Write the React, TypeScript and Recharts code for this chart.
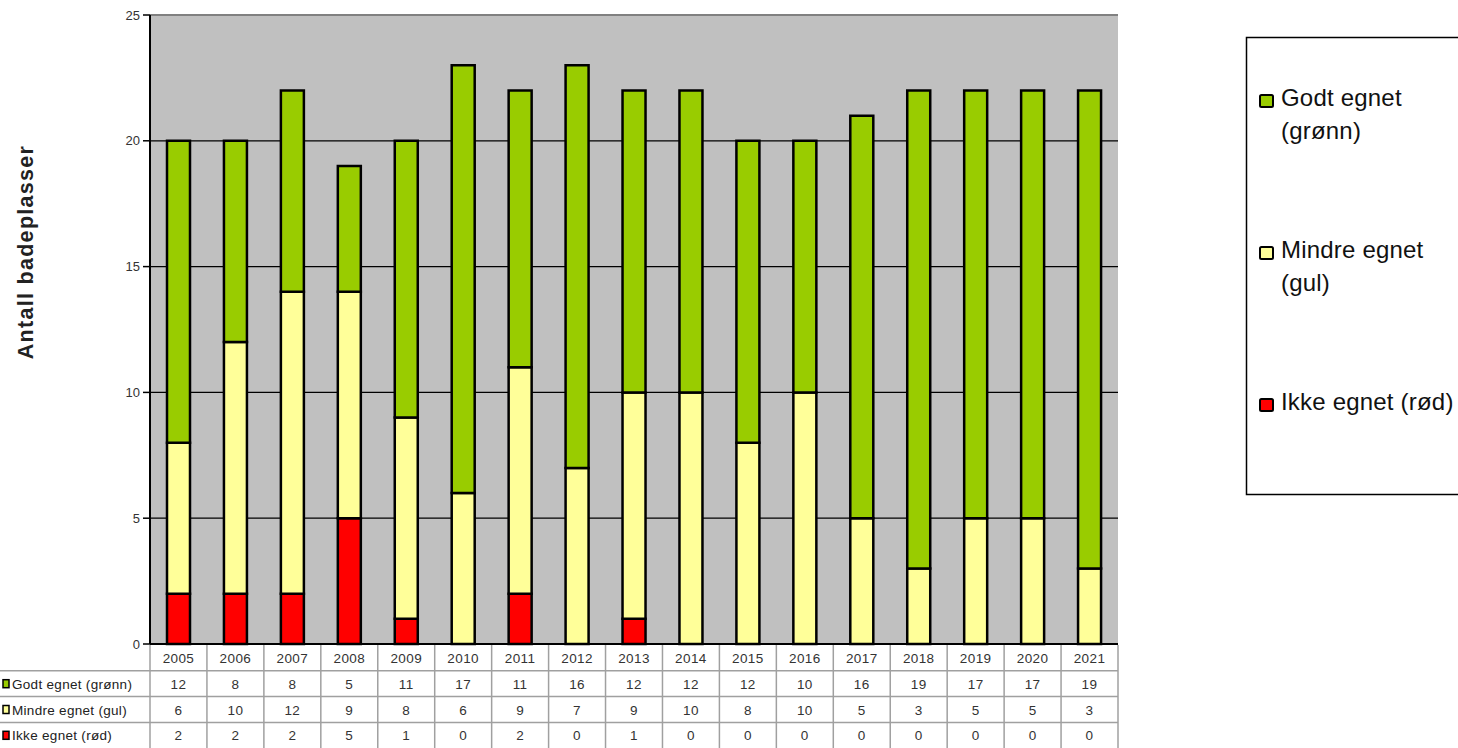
import React from 'react';
import { BarChart, Bar, XAxis, YAxis, CartesianGrid, ReferenceLine } from 'recharts';

const years = ['2005', '2006', '2007', '2008', '2009', '2010', '2011', '2012', '2013', '2014', '2015', '2016', '2017', '2018', '2019', '2020', '2021'];
const godt = [12, 8, 8, 5, 11, 17, 11, 16, 12, 12, 12, 10, 16, 19, 17, 17, 19];
const mindre = [6, 10, 12, 9, 8, 6, 9, 7, 9, 10, 8, 10, 5, 3, 5, 5, 3];
const ikke = [2, 2, 2, 5, 1, 0, 2, 0, 1, 0, 0, 0, 0, 0, 0, 0, 0];
const yTicks = [0, 5, 10, 15, 20, 25];

const seriesNames = ['Godt egnet (grønn)', 'Mindre egnet (gul)', 'Ikke egnet (rød)'];
const legendLines = [['Godt egnet', '(grønn)'], ['Mindre egnet', '(gul)'], ['Ikke egnet (rød)']];
const seriesColors = ['#99cc00', '#ffff99', '#ff0000'];

const data = years.map((year, i) => ({ year, godt: godt[i], mindre: mindre[i], ikke: ikke[i] }));

const W = 1458;
const H = 748;
const margin = { top: 15, right: 340, bottom: 103, left: 149 };
const plotW = W - 150 - margin.right;
const bandW = plotW / years.length;
const rowH = 25.8;
const FONT = '"Liberation Sans", Arial, sans-serif';
const GRID = '#a0a0a0';

// x-axis tick = one column of the data table under the chart
const TableTick = (props: any) => {
  const { x, index } = props;
  const y = H - 104 + 1;
  const l = x - bandW / 2;
  const r = x + bandW / 2;
  const cells = [years[index], String(godt[index]), String(mindre[index]), String(ikke[index])];
  return (
    <g>
      <line x1={r} y1={y} x2={r} y2={y + rowH * 4} stroke={GRID} strokeWidth={1.5} />
      {index === 0 && <line x1={l} y1={y} x2={l} y2={y + rowH * 4} stroke={GRID} strokeWidth={1.5} />}
      {[1, 2, 3].map((k) => (
        <line key={k} x1={l} y1={y + rowH * k} x2={r} y2={y + rowH * k} stroke={GRID} strokeWidth={1.5} />
      ))}
      {cells.map((c, k) => (
        <text
          key={k}
          x={x}
          y={y + rowH * k + rowH / 2 + 5}
          textAnchor="middle"
          fontSize={13.5}
          letterSpacing={0.4}
          fill="#333"
          fontFamily={FONT}
        >
          {c}
        </text>
      ))}
    </g>
  );
};

const App = () => {
  const tableTop = H - 104 + 1;
  return (
    <div style={{ position: 'absolute', left: 0, top: 0, width: W, height: H, background: '#fff', fontFamily: FONT }}>
      <BarChart width={W} height={H} data={data} margin={margin} barSize={23}>
        <CartesianGrid horizontal vertical={false} stroke="#000" strokeWidth={1.2} fill="#c0c0c0" fillOpacity={1} />
        <XAxis
          dataKey="year"
          height={1}
          interval={0}
          tickSize={0}
          tickMargin={1}
          axisLine={{ stroke: '#000', strokeWidth: 2 }}
          tick={<TableTick />}
        />
        <YAxis
          width={1}
          domain={[0, 25]}
          ticks={yTicks}
          tickSize={7}
          tickMargin={3}
          axisLine={{ stroke: '#000', strokeWidth: 2 }}
          tickLine={{ stroke: '#000', strokeWidth: 1.5 }}
          tick={{ fontSize: 13, fill: '#333', fontFamily: FONT }}
        />
        <ReferenceLine y={25} stroke="#808080" strokeWidth={2} />
        <Bar dataKey="ikke" stackId="a" fill={seriesColors[2]} stroke="#000" strokeWidth={2.5} isAnimationActive={false} />
        <Bar dataKey="mindre" stackId="a" fill={seriesColors[1]} stroke="#000" strokeWidth={2.5} isAnimationActive={false} />
        <Bar dataKey="godt" stackId="a" fill={seriesColors[0]} stroke="#000" strokeWidth={2.5} isAnimationActive={false} />
      </BarChart>

      <svg width={W} height={H} style={{ position: 'absolute', left: 0, top: 0, pointerEvents: 'none' }}>
        {/* y-axis title */}
        <text
          transform="translate(33 252) rotate(-90)"
          textAnchor="middle"
          fontSize={21.5}
          fontWeight="bold"
          letterSpacing={1.3}
          fill="#222"
          fontFamily={FONT}
        >
          Antall badeplasser
        </text>

        {/* table row labels */}
        {seriesNames.map((name, k) => {
          const top = tableTop + rowH * (k + 1);
          return (
            <g key={name}>
              <line x1={0} y1={top} x2={150} y2={top} stroke={GRID} strokeWidth={1.5} />
              <rect x={3} y={top + rowH / 2 - 4} width={6} height={8} fill={seriesColors[k]} stroke="#000" strokeWidth={1.5} />
              <text x={12} y={top + rowH / 2 + 5} fontSize={13.5} letterSpacing={0.3} fill="#222" fontFamily={FONT}>
                {name}
              </text>
            </g>
          );
        })}

        {/* legend */}
        <rect x={1246.5} y={37.5} width={240} height={457} fill="#fff" stroke="#000" strokeWidth={1.5} />
        {legendLines.map((lines, k) => {
          const base = 106 + k * 152;
          return (
            <g key={k}>
              <rect x={1260} y={base - 11} width={13} height={12} rx={1.5} fill={seriesColors[k]} stroke="#000" strokeWidth={2} />
              {lines.map((ln, j) => (
                <text key={j} x={1281} y={base + j * 33} fontSize={24} letterSpacing={0.2} fill="#111" fontFamily={FONT}>
                  {ln}
                </text>
              ))}
            </g>
          );
        })}
      </svg>
    </div>
  );
};

export default App;
